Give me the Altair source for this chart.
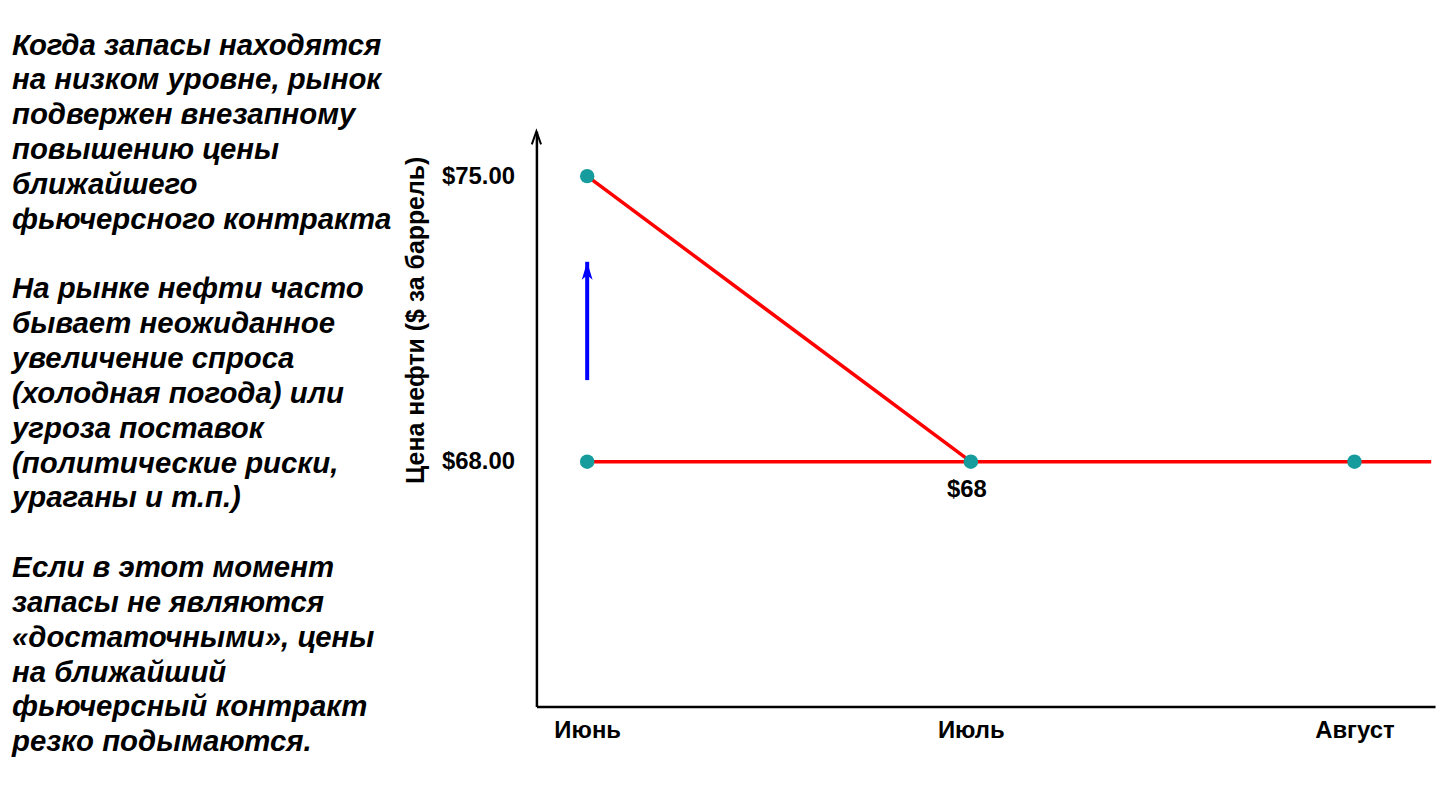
import altair as alt
import pandas as pd

# ---- data ----
months = ["Июнь", "Июль", "Август"]
month_pos = [0, 1, 2]

# red line segments: (segment, x, price)
seg_names = ["spike", "spike", "flat", "flat", "flat", "flat"]
seg_x = [0, 1, 0, 1, 2, 2.2]
seg_y = [75.0, 68.0, 68.0, 68.0, 68.0, 68.0]

# teal points
pt_x = [0, 0, 1, 2]
pt_y = [75.0, 68.0, 68.0, 68.0]

# blue upward arrow (June)
arrow_x = [0]
arrow_y0 = [70.0]
arrow_y1 = [72.9]

# annotation
ann_text = ["$68"]
ann_x = [1]
ann_y = [68.0]

y_ticks = [68, 75]
y_title = ["Цена нефти ($ за баррель)"]

left_lines = [
    "Когда запасы находятся",
    "на низком уровне, рынок",
    "подвержен внезапному",
    "повышению цены",
    "ближайшего",
    "фьючерсного контракта",
    "",
    "На рынке нефти часто",
    "бывает неожиданное",
    "увеличение спроса",
    "(холодная погода) или",
    "угроза поставок",
    "(политические риски,",
    "ураганы и т.п.)",
    "",
    "Если в этот момент",
    "запасы не являются",
    "«достаточными»,  цены",
    "на ближайший",
    "фьючерсный контракт",
    "резко подымаются.",
]

FONT = "Liberation Sans"

seg_df = pd.DataFrame({"seg": seg_names, "x": seg_x, "y": seg_y})
pt_df = pd.DataFrame({"x": pt_x, "y": pt_y})
arr_df = pd.DataFrame({"x": arrow_x, "y0": arrow_y0, "y1": arrow_y1})
ann_df = pd.DataFrame({"t": ann_text, "x": ann_x, "y": ann_y})
txt_df = pd.DataFrame({"row": list(range(len(left_lines))), "t": left_lines})
title_df = pd.DataFrame({"t": y_title})

label_expr = " : ".join(
    [f"datum.value == {p} ? '{m}'" for p, m in zip(month_pos, months)]
) + " : ''"

xscale = alt.Scale(domain=[-0.1323, 2.21], nice=False, zero=False)
yscale = alt.Scale(domain=[62, 76.1], nice=False, zero=False)

xenc = alt.X(
    "x:Q",
    scale=xscale,
    axis=alt.Axis(
        values=month_pos,
        labelExpr=label_expr,
        title=None,
        grid=False,
        ticks=False,
        labelFont=FONT,
        labelFontSize=24,
        labelFontWeight="bold",
        labelColor="black",
        labelPadding=12,
        domainColor="black",
        domainWidth=2.5,
    ),
)
yenc = alt.Y(
    "y:Q",
    scale=yscale,
    axis=alt.Axis(
        values=y_ticks,
        format="$.2f",
        title=None,
        grid=False,
        ticks=False,
        labelFont=FONT,
        labelFontSize=24,
        labelFontWeight="bold",
        labelColor="black",
        labelPadding=22,
        domainColor="black",
        domainWidth=2.5,
    ),
)

lines = alt.Chart(seg_df).mark_line(color="#ff0000", strokeWidth=3.5).encode(
    x=xenc, y=yenc, detail="seg:N"
)

points = alt.Chart(pt_df).mark_point(
    filled=True, color="#169c9c", size=210, opacity=1
).encode(x="x:Q", y="y:Q")

blue_line = alt.Chart(arr_df).mark_rule(color="#0000ff", strokeWidth=4).encode(
    x="x:Q", y="y0:Q", y2="y1:Q"
)
blue_head = alt.Chart(arr_df).mark_point(
    shape="M-0.3,1L0,0L0.3,1L0,0.75Z", filled=True, color="#0000ff", size=1300, opacity=1
).encode(x="x:Q", y=alt.Y("y1:Q"))

ann = alt.Chart(ann_df).mark_text(
    font=FONT, fontSize=24, fontWeight="bold", color="black", dy=28, dx=-4
).encode(x="x:Q", y="y:Q", text="t:N")

axis_arrow = alt.Chart(pt_df.head(1)).mark_point(
    shape="M-0.35,1L0,0L0.35,1", filled=False, color="black", strokeWidth=2,
    size=700, opacity=1
).encode(x=alt.value(0), y=alt.value(0))

ytitle = alt.Chart(title_df).mark_text(
    font=FONT, fontSize=25, fontWeight="bold", color="black", angle=270,
    align="center", baseline="middle"
).encode(x=alt.value(-121), y=alt.value(190), text="t:N")

left_text = alt.Chart(txt_df).mark_text(
    font=FONT, fontSize=29.5, fontWeight="bold", fontStyle="italic",
    color="black", align="left", baseline="middle"
).encode(
    x=alt.value(-527),
    y=alt.Y("row:O", scale=alt.Scale(type="point", range=[-86, 614], padding=0),
            axis=None),
    text="t:N",
)

main = alt.layer(lines, blue_line, blue_head, points, ann, axis_arrow, ytitle)

chart = (
    alt.layer(main, left_text)
    .resolve_scale(y="independent")
    .properties(
        width=903,
        height=578,
        autosize=alt.AutoSizeParams(type="none"),
        padding={"left": 531, "top": 122, "right": 8, "bottom": 60},
        background="white",
    )
    .configure_view(stroke=None)
)

chart.save("out.html", embed_options={"renderer": "svg", "actions": False})
